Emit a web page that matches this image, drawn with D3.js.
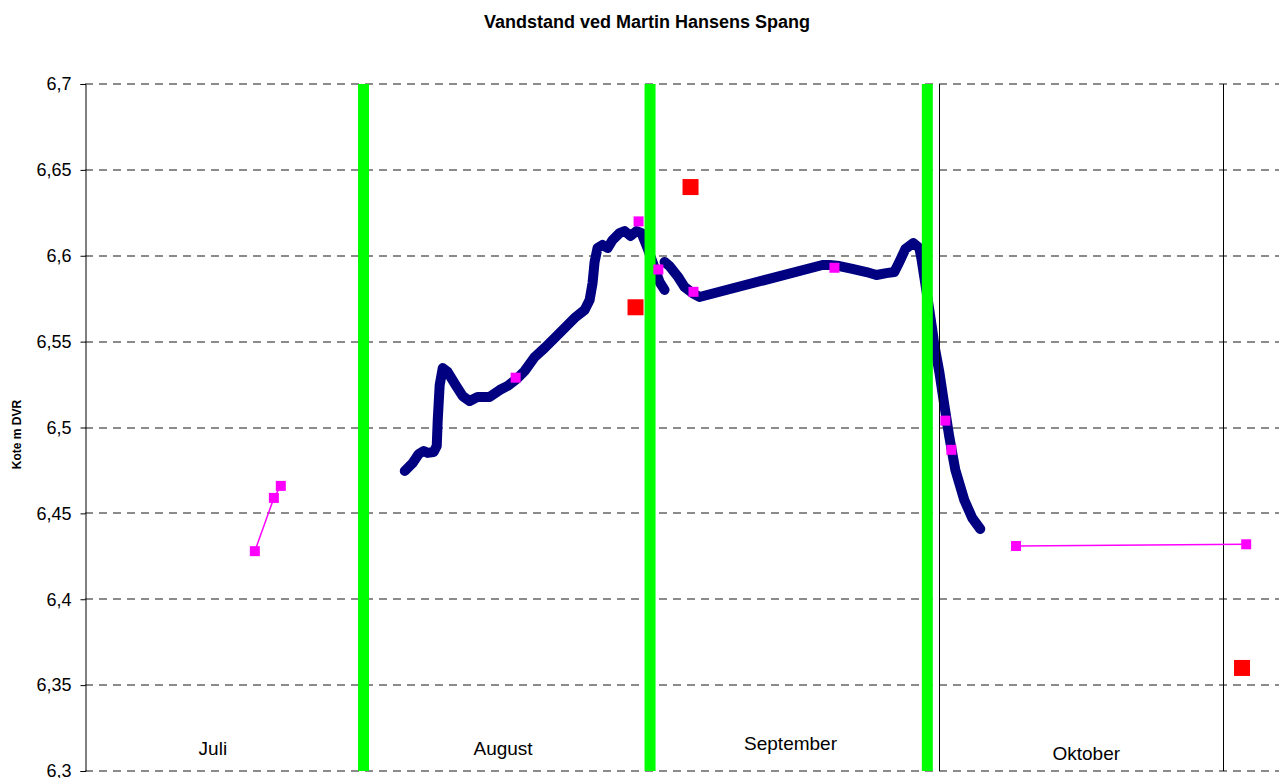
<!DOCTYPE html>
<html>
<head>
<meta charset="utf-8">
<script src="https://cdn.jsdelivr.net/npm/d3@7"></script>
<style>
  body { margin: 0; background: #fff; }
  svg { display: block; font-family: 'Liberation Sans', Arial, sans-serif; }
</style>
</head>
<body>
<div id="chart"></div>
<script>
// days are counted from 1 July (day 0)

const title = 'Vandstand ved Martin Hansens Spang'
const yTitle = 'Kote m DVR'
const yTicks = [6.3, 6.35, 6.4, 6.45, 6.5, 6.55, 6.6, 6.65, 6.7]

// month names, placed as text boxes inside the plot
const monthNames = ['Juli', 'August', 'September', 'Oktober']
const monthDays = [14.7, 46.1, 77.2, 109.2]
const monthLevels = [6.3093, 6.3093, 6.3122, 6.3064]

// green month separators and thin black lines
const separatorDays = [31, 62, 92]
const blackLineDays = [93.22, 124.03]

// logger series (navy), null breaks the line
const levelDays = [
  35.46, 36.32, 36.97, 37.51, 37.95, 38.59, 38.92, 39.03, 39.24, 39.57,
  40.11, 40.97, 41.73, 42.49, 43.35, 44.65, 45.73, 46.59, 47.57, 48.43,
  49.51, 50.59, 51.68, 52.76, 53.84, 54.92, 55.46, 55.78, 56.0, 56.32,
  56.86, 57.41, 57.95, 58.7, 59.24, 59.89, 60.54, 61.08, 61.73, 62.49,
  63.03, 63.57, 63.57, 63.57, 64.11, 64.97, 65.73, 66.59, 67.35, 80.65,
  81.41, 82.49, 83.89, 85.41, 86.49, 87.57, 88.43, 88.97, 89.62, 90.49,
  91.14, 91.35, 91.89, 92.54, 92.76, 93.3, 93.84, 94.38, 95.03, 96.0,
  96.86, 97.73
]
const levelValues = [
  6.4747, 6.4793, 6.4846, 6.4863, 6.4852, 6.4857, 6.4892, 6.5044, 6.5247, 6.5346,
  6.5323, 6.5247, 6.5183, 6.5154, 6.5178, 6.5178, 6.5218, 6.5242, 6.5282, 6.5329,
  6.541, 6.5463, 6.5521, 6.5579, 6.5638, 6.5684, 6.5742, 6.5841, 6.5964, 6.6045,
  6.6063, 6.6045, 6.6092, 6.6132, 6.6144, 6.6115, 6.6144, 6.6132, 6.6045, 6.5929,
  6.5847, 6.5801, null, 6.5964, 6.594, 6.5882, 6.5818, 6.5783, 6.576, 6.5946,
  6.5946, 6.594, 6.5923, 6.5905, 6.5888, 6.5899, 6.5905, 6.5964, 6.6039, 6.6074,
  6.6045, 6.5987, 6.5801, 6.5568, 6.548, 6.5323, 6.5131, 6.4945, 6.4753, 6.4578,
  6.4473, 6.4409
]

// manual readings (magenta), two connected groups and loose points
const julyDays = [19.24, 21.3, 22.05]
const julyValues = [6.428, 6.459, 6.466]
const octDays = [101.6, 126.5]
const octValues = [6.431, 6.432]
const manualDays = [47.46, 60.76, 62.9, 66.7, 81.95, 93.95, 94.6]
const manualValues = [6.529, 6.62, 6.592, 6.579, 6.593, 6.504, 6.487]

// red readings
const redDays = [60.43, 66.38, 126.05]
const redValues = [6.57, 6.64, 6.36]

const width = 1280
const height = 778
const margin = { top: 84, right: 1, bottom: 7, left: 85 }

const svg = d3
  .select('#chart')
  .append('svg')
  .attr('width', width)
  .attr('height', height)

const x = d3
  .scaleLinear()
  .domain([0.865, 130.05])
  .range([margin.left, width - margin.right])
const y = d3
  .scaleLinear()
  .domain([6.3, 6.7])
  .range([height - margin.bottom, margin.top])

const comma = d3.formatLocale({ decimal: ',', thousands: '.', grouping: [3], currency: ['', ''] })
const fmt = comma.format('~g')

// title
svg
  .append('text')
  .attr('x', 647)
  .attr('y', 28)
  .attr('text-anchor', 'middle')
  .style('font-size', '18px')
  .style('font-weight', 'bold')
  .text(title)

svg
  .append('text')
  .attr('transform', `translate(21,${(y(6.7) + y(6.3)) / 2 + 7}) rotate(-90)`)
  .attr('text-anchor', 'middle')
  .style('font-size', '12px')
  .style('font-weight', 'bold')
  .text(yTitle)

// dashed grid
svg
  .append('g')
  .selectAll('line')
  .data(yTicks)
  .join('line')
  .attr('x1', margin.left)
  .attr('x2', width - margin.right)
  .attr('y1', d => Math.round(y(d)))
  .attr('y2', d => Math.round(y(d)))
  .attr('stroke', '#666')
  .attr('stroke-width', 1.6)
  .attr('stroke-dasharray', '8,6')

// y axis
const yAxis = svg
  .append('g')
  .attr('transform', `translate(${margin.left + 0.5},0)`)
  .call(d3.axisLeft(y).tickValues(yTicks).tickFormat(fmt).tickSize(5).tickPadding(9))
yAxis.selectAll('text').style('font-size', '18px').attr('fill', '#000').attr('font-family', null)
yAxis.selectAll('line, path').attr('stroke', '#000')

// logger series
const levelData = levelDays.map((d, i) => ({ day: d, value: levelValues[i] }))
const levelLine = d3
  .line()
  .defined(d => d.value !== null)
  .x(d => x(d.day))
  .y(d => y(d.value))

svg
  .append('path')
  .datum(levelData)
  .attr('d', levelLine)
  .attr('fill', 'none')
  .attr('stroke', '#000080')
  .attr('stroke-width', 10)
  .attr('stroke-linejoin', 'round')
  .attr('stroke-linecap', 'round')

// green separators
svg
  .append('g')
  .selectAll('rect')
  .data(separatorDays)
  .join('rect')
  .attr('x', d => x(d) - 5.5)
  .attr('y', y(6.7))
  .attr('width', 11)
  .attr('height', y(6.3) - y(6.7))
  .attr('fill', '#00ff00')

svg
  .append('g')
  .selectAll('line')
  .data(blackLineDays)
  .join('line')
  .attr('x1', d => Math.round(x(d)) + 0.5)
  .attr('x2', d => Math.round(x(d)) + 0.5)
  .attr('y1', y(6.7))
  .attr('y2', y(6.3))
  .attr('stroke', '#000')

// month labels
svg
  .append('g')
  .selectAll('text')
  .data(monthNames)
  .join('text')
  .attr('x', (d, i) => x(monthDays[i]))
  .attr('y', (d, i) => y(monthLevels[i]))
  .attr('text-anchor', 'middle')
  .style('font-size', '19px')
  .text(d => d)

// magenta groups with lines
const simpleLine = d3
  .line()
  .x(d => x(d.day))
  .y(d => y(d.value))
const groups = [
  julyDays.map((d, i) => ({ day: d, value: julyValues[i] })),
  octDays.map((d, i) => ({ day: d, value: octValues[i] })),
]
svg
  .append('g')
  .selectAll('path')
  .data(groups)
  .join('path')
  .attr('d', simpleLine)
  .attr('fill', 'none')
  .attr('stroke', '#ff00ff')
  .attr('stroke-width', 1.5)

const magentaPts = groups
  .flat()
  .concat(manualDays.map((d, i) => ({ day: d, value: manualValues[i] })))
svg
  .append('g')
  .selectAll('rect')
  .data(magentaPts)
  .join('rect')
  .attr('x', d => x(d.day) - 5)
  .attr('y', d => y(d.value) - 5)
  .attr('width', 10)
  .attr('height', 10)
  .attr('fill', '#ff00ff')

// red readings
svg
  .append('g')
  .selectAll('rect')
  .data(redDays.map((d, i) => ({ day: d, value: redValues[i] })))
  .join('rect')
  .attr('x', d => x(d.day) - 8)
  .attr('y', d => y(d.value) - 8)
  .attr('width', 16)
  .attr('height', 16)
  .attr('fill', '#ff0000')
</script>
</body>
</html>
